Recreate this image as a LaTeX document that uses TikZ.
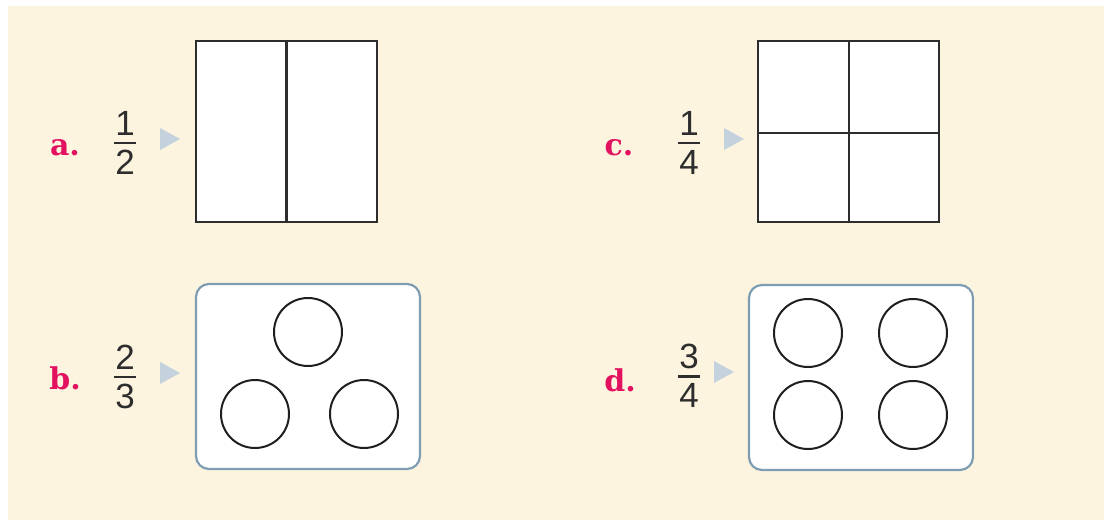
\documentclass[tikz,border=0pt]{standalone}
\usepackage{fontspec}
\setmainfont{Liberation Sans}
\newfontfamily\labfont{DejaVu Serif}
\definecolor{bgcream}{RGB}{253,244,224}
\definecolor{labpink}{RGB}{226,18,96}
\definecolor{tricol}{RGB}{196,210,222}
\definecolor{boxedge}{RGB}{126,157,179}
\definecolor{ink}{RGB}{45,45,45}
\newcommand\stackfrac[2]{\vbox{\hbox to 22pt{\hss#1\hss}\kern 6pt\hrule height 2.4pt\kern 6pt\hbox to 22pt{\hss#2\hss}}}
\tikzset{
  lab/.style={font=\labfont\bfseries\fontsize{30}{30}\selectfont, text=labpink, inner sep=0pt},
  fracnode/.style={font=\fontsize{35}{35}\selectfont, text=ink, inner sep=0pt},
  pointer/.style={fill=tricol, draw=none},
  gridbox/.style={draw=ink, line width=2.6pt, fill=white},
  setbox/.style={draw=boxedge, line width=2.2pt, fill=white, rounded corners=13pt},
  ring/.style={circle, draw=black!88, line width=2pt, minimum size=68pt, inner sep=0pt}
}
\begin{document}
\begin{tikzpicture}[x=1pt,y=-1pt]
\useasboundingbox (0,0) rectangle (1104,520);
\fill[white] (0,0) rectangle (1104,520);
\fill[bgcream] (8,6) rectangle (1104,520);

% a
\node[lab] (la) at (65,148) {a.};
\node[fracnode] (fa) at (125,143) {\stackfrac{1}{2}};
\fill[pointer] (160,128) -- (180,139) -- (160,150) -- cycle;
\draw[gridbox] (196,41) rectangle (377,222);
\draw[ink, line width=2.6pt] (286.5,41) -- (286.5,222);

% c
\node[lab] (lc) at (619,148) {c.};
\node[fracnode] (fc) at (689,143) {\stackfrac{1}{4}};
\fill[pointer] (724,128) -- (744,139) -- (724,150) -- cycle;
\draw[gridbox] (758,41) rectangle (939,222);
\draw[ink, line width=2.6pt] (849,41) -- (849,222);
\draw[ink, line width=2.6pt] (758,133) -- (939,133);

% b
\node[lab] (lb) at (65,378) {b.};
\node[fracnode] (fb) at (125,377) {\stackfrac{2}{3}};
\fill[pointer] (160,362) -- (180,373) -- (160,384) -- cycle;
\draw[setbox] (196,284) rectangle (420,469);
\node[ring] (b1) at (308,332) {};
\node[ring] (b2) at (255,414) {};
\node[ring] (b3) at (364,414) {};

% d
\node[lab] (ld) at (620,380) {d.};
\node[fracnode] (fd) at (689,376) {\stackfrac{3}{4}};
\fill[pointer] (714,361) -- (734,372) -- (714,383) -- cycle;
\draw[setbox] (749,285) rectangle (973,470);
\node[ring] (d1) at (808,333) {};
\node[ring] (d2) at (913,333) {};
\node[ring] (d3) at (808,415) {};
\node[ring] (d4) at (913,415) {};
\end{tikzpicture}
\end{document}
